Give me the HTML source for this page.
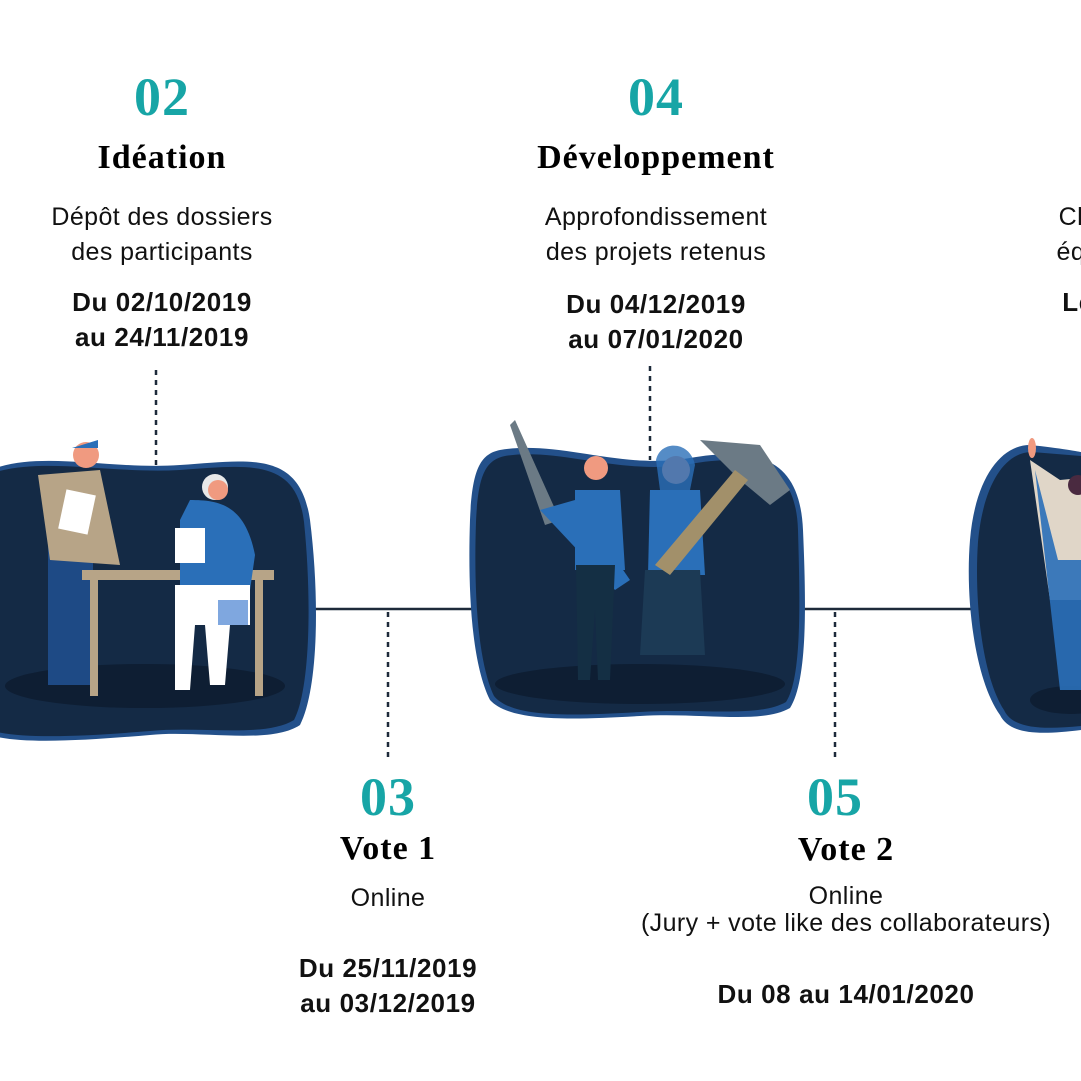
<!DOCTYPE html>
<html><head><meta charset="utf-8"><style>
html,body{margin:0;padding:0;background:#fff;}
body{width:1081px;height:1081px;overflow:hidden;position:relative;font-family:"Liberation Sans",sans-serif;}
svg{position:absolute;left:0;top:0;}
.t{position:absolute;text-align:center;color:#111;transform:translateX(-50%);white-space:nowrap;}
.n{font-family:"Liberation Serif",serif;font-weight:bold;color:#17a5a6;font-size:54px;line-height:50px;letter-spacing:1px;}
.h{font-family:"Liberation Serif",serif;font-weight:bold;font-size:34px;line-height:34px;letter-spacing:1px;color:#000;}
.p{font-size:25px;line-height:35px;letter-spacing:.4px;}
.d{font-size:26px;font-weight:bold;line-height:35px;letter-spacing:.6px;}
</style></head><body>
<svg width="1081" height="1081" viewBox="0 0 1081 1081">
<line x1="300" y1="609" x2="1000" y2="609" stroke="#1d2a3a" stroke-width="2.5"/>
<g stroke="#1d2a3a" stroke-width="2.5" stroke-dasharray="5,5">
<line x1="156" y1="370" x2="156" y2="470"/>
<line x1="650" y1="366" x2="650" y2="460"/>
<line x1="388" y1="612" x2="388" y2="760"/>
<line x1="835" y1="612" x2="835" y2="762"/>
</g>
<path d="M-10 470 C40 450 110 470 180 465 C250 460 300 450 310 520 C320 600 318 690 300 725 C270 745 200 730 150 735 C90 740 20 745 -10 735 Z" fill="#23508a"/>
<path d="M-10 474 C40 456 110 474 180 470 C250 465 296 458 304 522 C312 600 310 690 294 720 C265 738 200 726 150 731 C90 736 20 740 -10 730 Z" fill="#142a45"/>
<ellipse cx="145" cy="686" rx="140" ry="22" fill="#0e1e33"/>
<path d="M500 450 C560 440 620 470 690 458 C760 446 800 460 803 530 C806 600 808 680 790 708 C760 725 700 712 640 716 C570 720 510 722 490 700 C470 660 468 580 470 520 C472 470 480 454 500 450 Z" fill="#23508a"/>
<path d="M505 456 C560 447 620 476 690 464 C758 452 796 466 798 530 C800 600 802 678 786 702 C758 718 700 708 640 712 C570 716 512 718 494 696 C476 658 474 580 476 522 C478 474 486 460 505 456 Z" fill="#142a45"/>
<ellipse cx="640" cy="684" rx="145" ry="20" fill="#0e1e33"/>
<path d="M1030 445 C1060 448 1081 452 1081 452 L1081 730 C1040 735 1010 735 1000 715 C975 680 965 600 970 540 C975 480 1000 445 1030 445 Z" fill="#23508a"/>
<path d="M1032 452 L1081 456 L1081 726 C1040 730 1012 728 1004 710 C982 676 974 600 978 542 C983 486 1004 452 1032 452 Z" fill="#142a45"/>
<ellipse cx="1070" cy="700" rx="40" ry="14" fill="#0e1e33"/>
<rect x="48" y="530" width="45" height="155" fill="#1e4a85"/>
<path d="M38 475 L100 470 L120 565 L50 560 Z" fill="#b7a487"/>
<circle cx="86" cy="455" r="13" fill="#f09a80"/><path d="M72 448 L98 440 L98 448 Z" fill="#2a6fb8"/>
<rect x="62" y="492" width="30" height="40" fill="#fff" transform="rotate(12 77 512)"/>
<rect x="82" y="570" width="192" height="10" fill="#b7a487"/>
<rect x="90" y="578" width="8" height="118" fill="#b7a487"/><rect x="255" y="578" width="8" height="118" fill="#b7a487"/>
<path d="M190 500 C220 500 245 505 255 555 L250 590 L180 600 L180 520 Z" fill="#2a6fb8"/>
<circle cx="215" cy="487" r="13" fill="#e8e8e8"/><circle cx="218" cy="490" r="10" fill="#f09a80"/>
<rect x="175" y="528" width="30" height="35" fill="#fff"/>
<path d="M175 585 L250 585 L250 625 L230 625 L225 685 L210 685 L205 625 L195 625 L190 690 L175 690 Z" fill="#fff"/>
<rect x="218" y="600" width="30" height="25" fill="#7fa7df"/>
<path d="M515 420 L560 520 L545 525 L510 425 Z" fill="#6b7a85"/>
<path d="M540 510 L575 500 L630 580 L615 590 Z" fill="#2a6fb8"/>
<path d="M575 490 L620 490 L625 570 L575 570 Z" fill="#2a6fb8"/>
<circle cx="596" cy="468" r="12" fill="#f09a80"/>
<path d="M576 565 L615 565 L610 680 L598 680 L595 610 L590 680 L578 680 Z" fill="#142f44"/>
<circle cx="676" cy="470" r="14" fill="#f09a80"/><path d="M656 460 C660 440 690 440 695 465 L690 490 L660 490 Z" fill="#2a6fb8" opacity=".8"/>
<path d="M650 490 L700 490 L705 575 L648 575 Z" fill="#2a6fb8"/>
<path d="M645 570 L700 570 L705 655 L640 655 Z" fill="#1c3a55"/>
<path d="M700 440 L760 445 L790 490 L770 505 L740 480 Z" fill="#6b7a85"/>
<path d="M735 470 L748 480 L670 575 L655 565 Z" fill="#a2906a"/>
<path d="M1030 460 L1060 480 L1081 478 L1081 600 L1050 600 Z" fill="#e0d6c8"/>
<path d="M1035 470 L1058 560 L1081 560 L1081 690 L1060 690 Z" fill="#2a6fb8" opacity=".9"/>
<circle cx="1078" cy="485" r="10" fill="#4a2a40"/>
<ellipse cx="1032" cy="448" rx="4" ry="10" fill="#f09a80"/>
</svg>
<div class="t n" style="left:162px;top:72px">02</div>
<div class="t h" style="left:162px;top:141px">Idéation</div>
<div class="t p" style="left:162px;top:200px">Dépôt des dossiers<br>des participants</div>
<div class="t d" style="left:162px;top:285px">Du 02/10/2019<br>au 24/11/2019</div>
<div class="t n" style="left:656px;top:72px">04</div>
<div class="t h" style="left:656px;top:141px">Développement</div>
<div class="t p" style="left:656px;top:200px">Approfondissement<br>des projets retenus</div>
<div class="t d" style="left:656px;top:287px">Du 04/12/2019<br>au 07/01/2020</div>
<div class="t p" style="left:1078px;top:200px">Cla<br>équ</div>
<div class="t d" style="left:1078px;top:285px">Le</div>
<div class="t n" style="left:388px;top:772px">03</div>
<div class="t h" style="left:388px;top:832px">Vote 1</div>
<div class="t p" style="left:388px;top:881px">Online</div>
<div class="t d" style="left:388px;top:951px">Du 25/11/2019<br>au 03/12/2019</div>
<div class="t n" style="left:835px;top:772px">05</div>
<div class="t h" style="left:846px;top:833px">Vote 2</div>
<div class="t p" style="left:846px;top:883px;line-height:27px">Online<br>(Jury + vote like des collaborateurs)</div>
<div class="t d" style="left:846px;top:977px">Du 08 au 14/01/2020</div>
</body></html>
